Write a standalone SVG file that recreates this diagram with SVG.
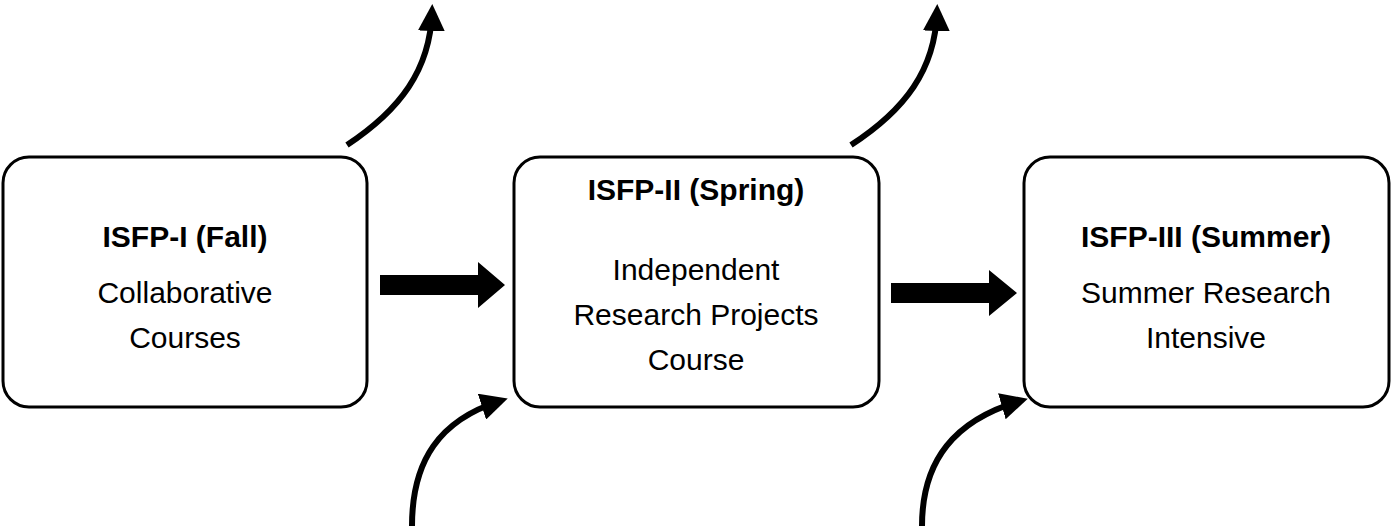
<svg xmlns="http://www.w3.org/2000/svg" width="1394" height="531" viewBox="0 0 1394 531">
<style>
.box{fill:#fff;stroke:#000;stroke-width:3}
text{font-family:"Liberation Sans",Arial,sans-serif;font-size:30px;text-anchor:middle;fill:#000}
.t{font-weight:bold}
.c{fill:none;stroke:#000;stroke-width:6}
</style>
<defs>
<marker id="ah" viewBox="0 0 10 10" refX="7" refY="5" markerWidth="4.5" markerHeight="4.5" orient="auto" markerUnits="strokeWidth">
<path d="M0,0 L10,5 L0,10 z" fill="#000"/>
</marker>
</defs>
<rect width="1394" height="531" fill="#fff"/>
<g id="n1"><rect class="box" x="3" y="157" width="364" height="250" rx="26"/>
<text class="t" x="185" y="247">ISFP-I (Fall)</text>
<text x="185" y="303">Collaborative</text>
<text x="185" y="348">Courses</text></g>
<g id="n2"><rect class="box" x="514" y="157" width="365" height="250" rx="26"/>
<text class="t" x="696" y="200">ISFP-II (Spring)</text>
<text x="696" y="280">Independent</text>
<text x="696" y="325">Research Projects</text>
<text x="696" y="370">Course</text></g>
<g id="n3"><rect class="box" x="1024" y="157" width="365" height="250" rx="26"/>
<text class="t" x="1206" y="247">ISFP-III (Summer)</text>
<text x="1206" y="303">Summer Research</text>
<text x="1206" y="348">Intensive</text></g>
<g id="connectors">
<polygon points="380,275 478,275 478,262 505,285 478,308 478,295 380,295" fill="#000"/>
<polygon points="891,283 989,283 989,270 1017,293 989,316 989,303 891,303" fill="#000"/>
<path class="c" d="M347,145 C400,110 430,70 432,12" marker-end="url(#ah)"/>
<path class="c" d="M851,145 C905,110 935,70 937,12" marker-end="url(#ah)"/>
<path class="c" d="M412,526 C412,460 440,420 500,401" marker-end="url(#ah)"/>
<path class="c" d="M922,526 C922,460 955,420 1020,401" marker-end="url(#ah)"/>
</g>
</svg>
